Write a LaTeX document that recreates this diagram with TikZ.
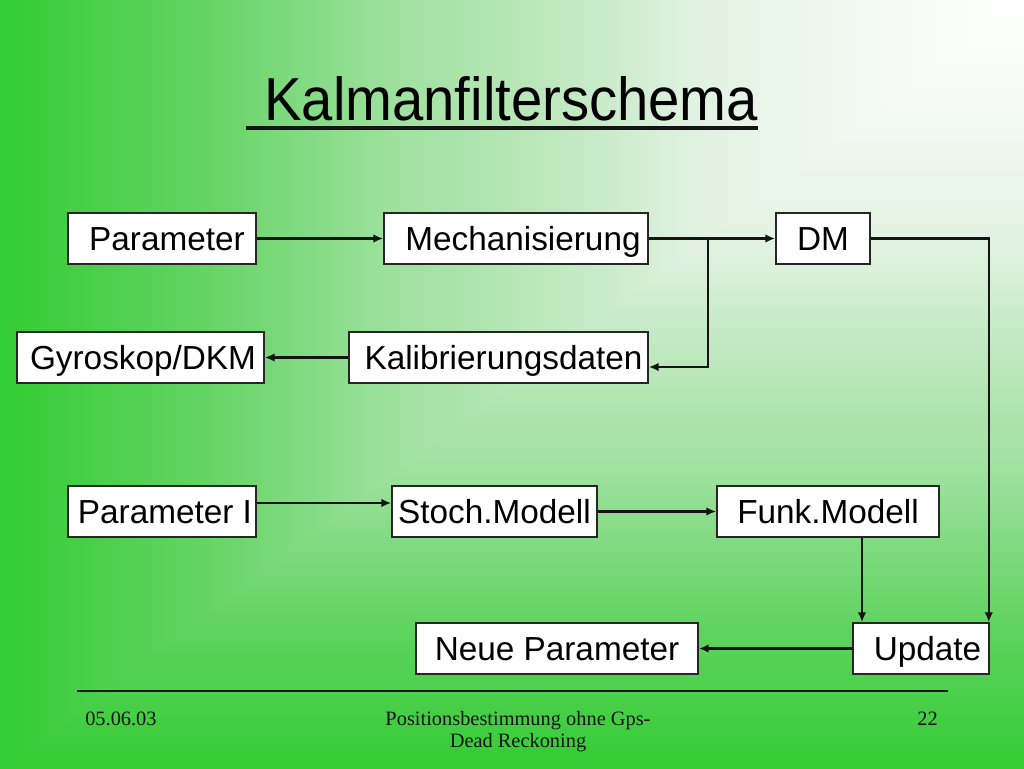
\documentclass[tikz,border=0pt]{standalone}
\usepackage{fontspec}
\setmainfont{Liberation Sans}
\newfontfamily\footfont{Liberation Serif}
\usetikzlibrary{arrows.meta}

\newlength\px
\setlength\px{0.25mm}

\definecolor{bgdeep}{RGB}{51,204,51}
\definecolor{bgB}{RGB}{100,212,100}
\definecolor{bgC}{RGB}{160,225,160}
\definecolor{bgD}{RGB}{190,232,190}
\definecolor{bgE}{RGB}{225,242,225}
\definecolor{bgF}{RGB}{243,249,243}
\definecolor{boxgray}{RGB}{38,38,38}
\definecolor{linegray}{RGB}{20,20,20}

% corner gradient: the path's box maps to 25bp..75bp
\pgfdeclarehorizontalshading{slidebgh}{100bp}{color(0bp)=(bgdeep); color(25bp)=(bgdeep); color(35bp)=(bgB); color(44.5bp)=(bgC); color(52bp)=(bgD); color(59bp)=(bgE); color(67.5bp)=(bgF); color(75bp)=(white); color(100bp)=(white)}
\pgfdeclareverticalshading{slidebgv}{100bp}{color(0bp)=(bgdeep); color(25bp)=(bgdeep); color(35bp)=(bgB); color(44.5bp)=(bgC); color(52bp)=(bgD); color(59bp)=(bgE); color(67.5bp)=(bgF); color(75bp)=(white); color(100bp)=(white)}

\tikzset{
	blockbox/.style={draw=boxgray, line width=1.1pt, fill=white, inner sep=0pt,
		minimum height=51\px, text height=17pt, text depth=0pt,
		font=\fontsize{23.7pt}{28pt}\selectfont},
	flowarrow/.style={draw=linegray, line width=1.5pt, -{Latex[length=7pt,width=6pt]}},
	footer/.style={inner sep=0pt, text=linegray, font=\footfont\fontsize{14.5pt}{15.6pt}\selectfont},
}

\begin{document}
\begin{tikzpicture}[x=1\px, y=-1\px]
	\useasboundingbox (0,0) rectangle (1024,768);
	% background
	\shade[shading=slidebgv] (0,0) rectangle (1024,768);
	\shade[shading=slidebgh] (0,0) -- (1024,0) -- (0,768) -- cycle;

	% title
	\node[anchor=base west, inner sep=0pt] (title) at (264,120) {\fontsize{40pt}{44pt}\selectfont\scalebox{1}[1.08]{Kalmanfilterschema}};
	\draw[line width=2.8pt, linegray] ([xshift=-18\px, yshift=-8\px]title.base west) -- ([yshift=-8\px]title.base east);

	% boxes
	\node[blockbox, minimum width=188\px] (param) at (162,238.5) {\hspace{10\px}Parameter};
	\node[blockbox, minimum width=264\px] (mech) at (516,238.5) {\hspace{14\px}Mechanisierung};
	\node[blockbox, minimum width=94\px] (dm) at (823,238.5) {DM};
	\node[blockbox, minimum width=247\px] (gyro) at (140.5,357.5) {\hspace{5\px}Gyroskop/DKM};
	\node[blockbox, minimum width=299\px] (kalib) at (498.5,357.5) {\hspace{10\px}Kalibrierungsdaten};
	\node[blockbox, minimum width=188\px] (paramI) at (162,511.5) {\hspace{6\px}Parameter I};
	\node[blockbox, minimum width=205\px] (stoch) at (494.5,511.5) {Stoch.Modell};
	\node[blockbox, minimum width=222\px] (funk) at (828,511.5) {Funk.Modell\hspace{16\px}};
	\node[blockbox, minimum width=282\px] (neue) at (557,648.5) {Neue Parameter\hspace{6\px}};
	\node[blockbox, minimum width=136\px] (update) at (921,648.5) {\hspace{13\px}Update};

	% connectors
	\draw[flowarrow] (param) -- (mech);
	\draw[flowarrow] (mech) -- (dm);
	\coordinate (split) at (708,238.5);
	\draw[flowarrow] (split) |- ([yshift=-9.5\px]kalib.east);
	\draw[flowarrow] (kalib) -- (gyro);
	\draw[flowarrow] (dm.east) -| ([xshift=-1\px]update.north east);
	\draw[flowarrow] ([yshift=8.5\px]paramI.east) -- ([yshift=8.5\px]stoch.west);
	\draw[flowarrow] (stoch) -- (funk);
	\coordinate (funkdrop) at ([xshift=34\px]funk.south);
	\draw[flowarrow] (funkdrop) -- (funkdrop |- update.north);
	\draw[flowarrow] (update) -- (neue);

	% footer
	\draw[line width=1.4pt, linegray] (77,691) -- (948,691);
	\node[footer, anchor=base west] (date) at (85,725) {05.06.03};
	\node[footer, anchor=base, align=center] (subject) at (518,747) {Positionsbestimmung ohne Gps-\\Dead Reckoning};
	\node[footer, anchor=base east] (pageno) at (938,725) {22};
\end{tikzpicture}
\end{document}
